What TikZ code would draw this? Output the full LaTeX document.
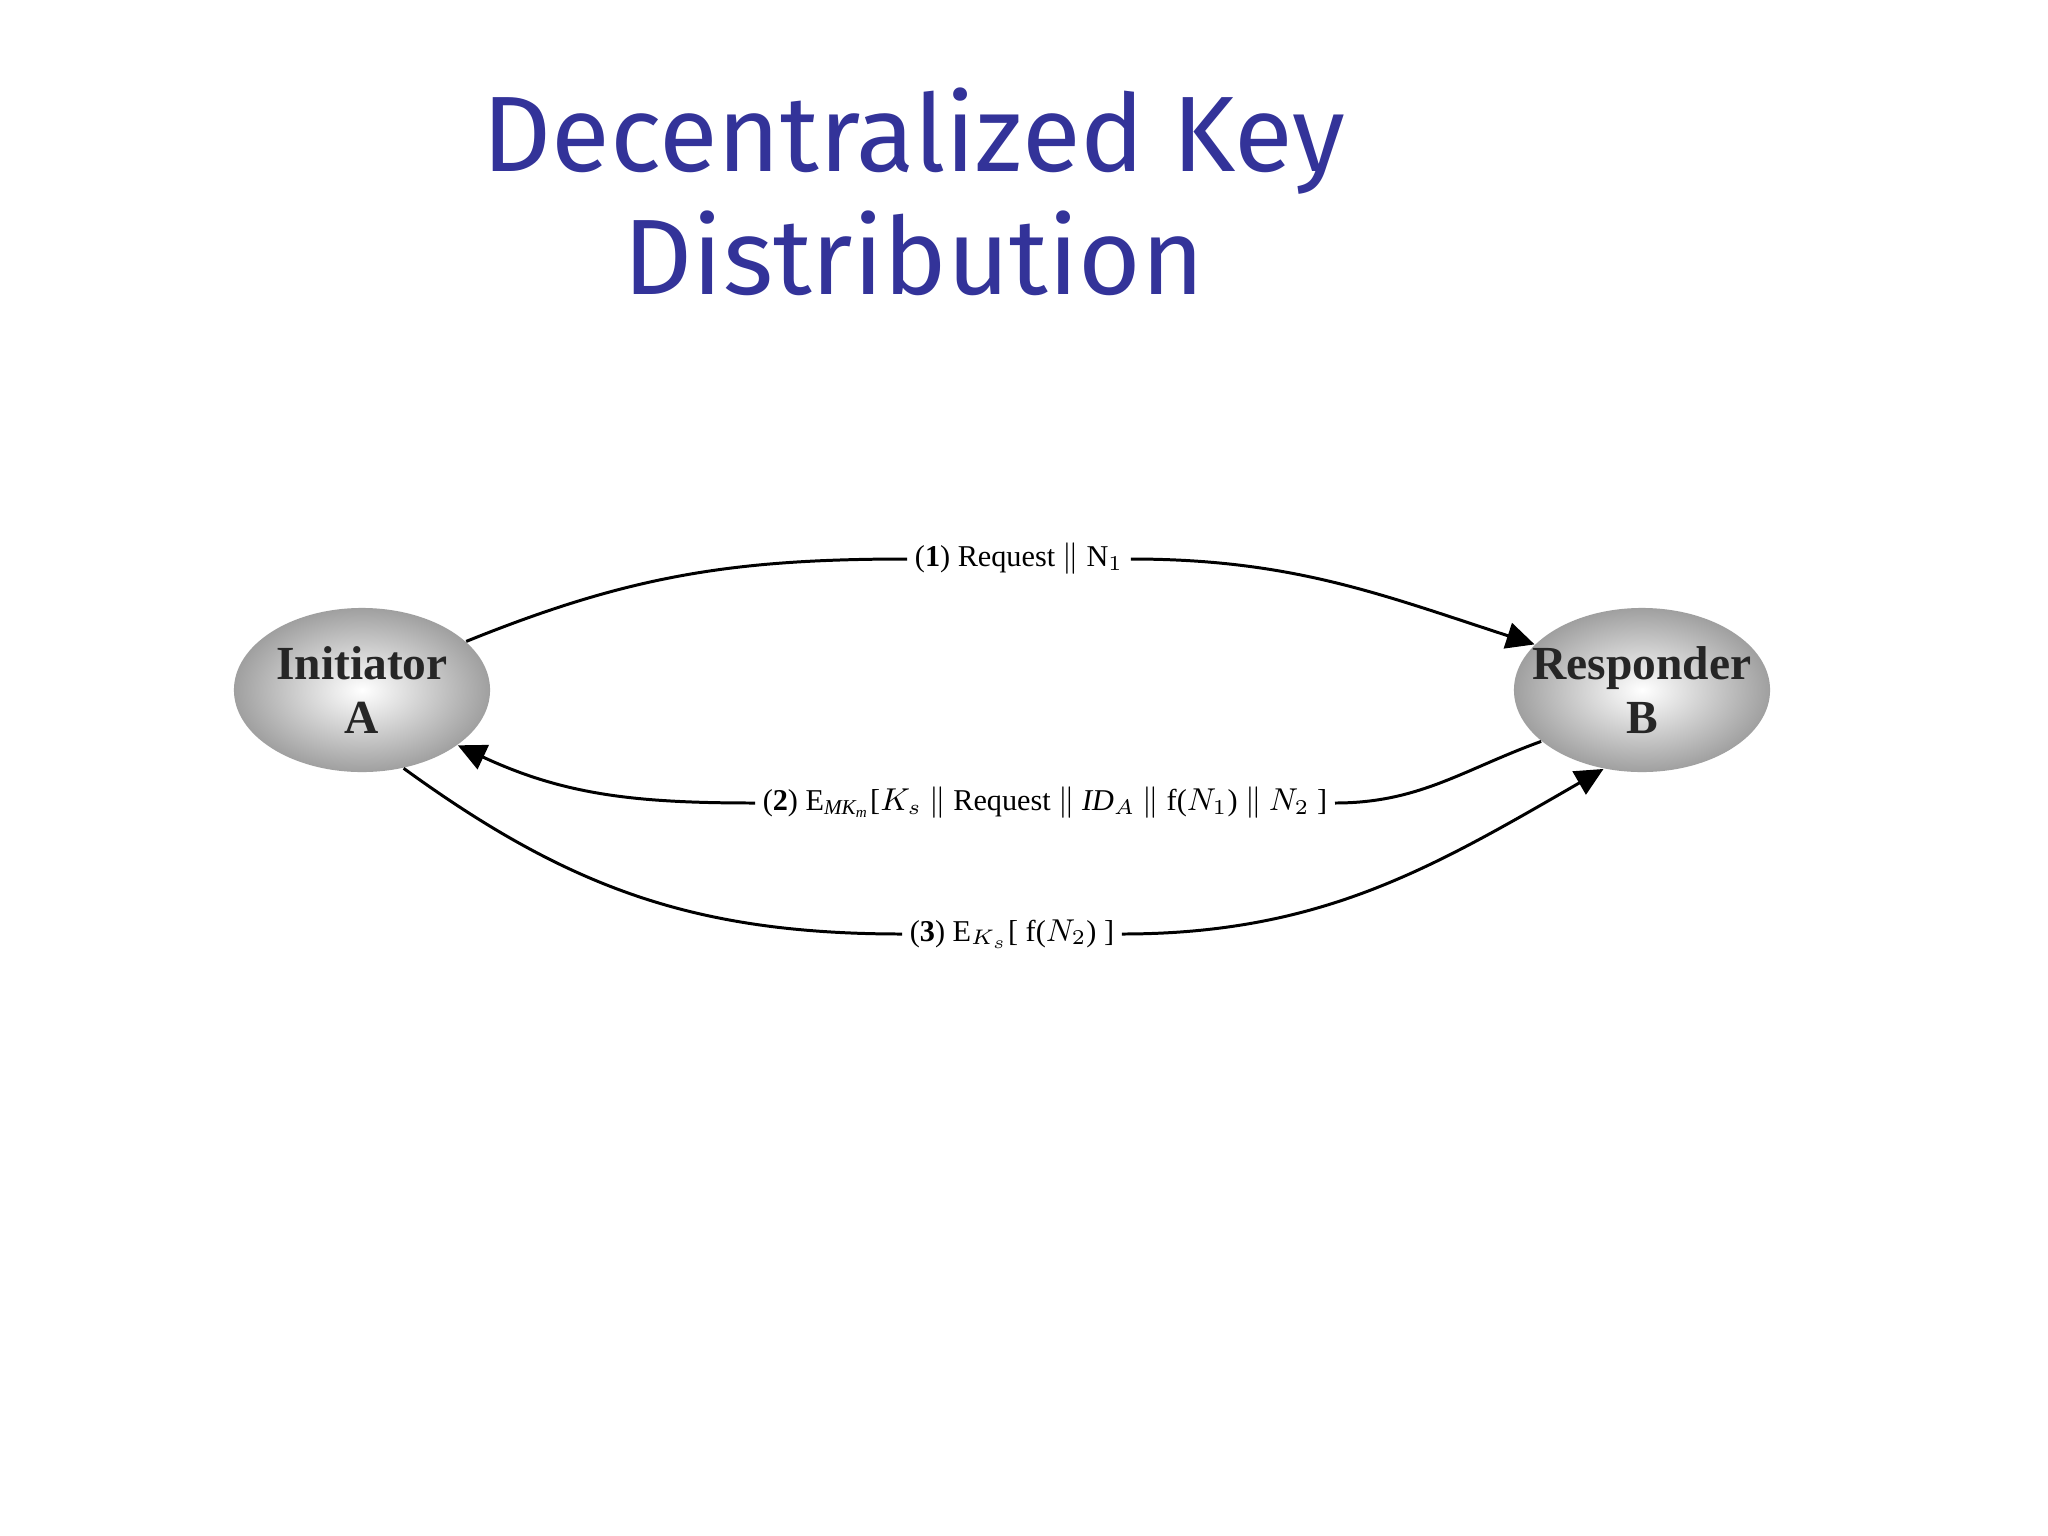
\documentclass[tikz,border=0pt]{standalone}
\usepackage{fontspec}
\setmainfont{Liberation Serif}
\newfontfamily\titlefont{Fira Sans}
\usetikzlibrary{arrows.meta,shapes.geometric}
\definecolor{titleblue}{RGB}{51,51,153}
\begin{document}
\begin{tikzpicture}[x=0.01cm,y=-0.01cm,
  party/.style={ellipse,minimum width=2.56cm,minimum height=1.64cm,inner sep=0pt,
    shading=radial,inner color=white,outer color=gray!75},
  partytext/.style={align=center,inner sep=0pt,
    font=\fontsize{13.5}{15.5}\selectfont\bfseries,text=black!85},
  msg/.style={font=\fontsize{8.6}{10}\selectfont,inner sep=2pt},
  conn/.style={line width=0.85pt,black},
  arr/.style={conn,-{Triangle[length=8pt,width=7.5pt]}}]
\useasboundingbox (0,0) rectangle (2048,1536);
\fill[white] (0,0) rectangle (2048,1536);
\node[text=titleblue,font=\titlefont\fontsize{30.5}{35}\selectfont,align=center] (title) at (914,192) {Decentralized Key\\Distribution};
\node[party] (A) at (362,690) {};
\node[partytext] (At) at (362,690) {Initiator\\A};
\node[party] (B) at (1642,690) {};
\node[partytext] (Bt) at (1642,690) {Responder\\B};
\node[msg] (l1) at (1019,559) {(\textbf{1}) Request $\Vert$ N$_1$};
\node[msg] (l2) at (1045,803) {(\textbf{2}) E$_{\mathit{MK_m}}$[$K_s$ $\Vert$ Request $\Vert$ $\mathit{ID}_A$ $\Vert$ f($N_1$) $\Vert$ $N_2$ ]};
\node[msg] (l3) at (1012,934) {(\textbf{3}) E$_{K_s}$[ f($N_2$) ]};
\draw[conn] (A.25) to[out=22,in=180] (l1.west);
\draw[arr] (l1.east) to[out=0,in=162] (B.157);
\draw[conn] (B.207) to[out=200,in=0] (l2.east);
\draw[arr] (l2.west) to[out=180,in=-25] (A.-30);
\draw[conn] (A.-62) to[out=-36,in=180] (l3.west);
\draw[arr] (l3.east) to[out=0,in=210] (B.244);
\end{tikzpicture}
\end{document}
